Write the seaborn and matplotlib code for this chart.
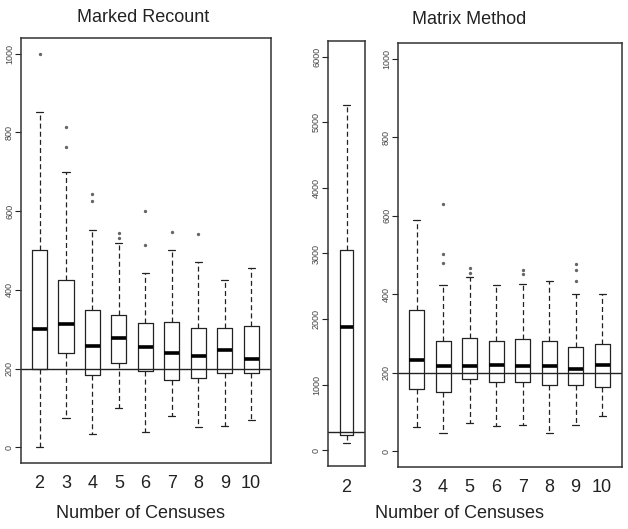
import matplotlib
matplotlib.use("Agg")
import matplotlib.pyplot as plt
import seaborn as sns

# Marked Recount: censuses 2-10 (five-number summaries)
mr_censuses = [2, 3, 4, 5, 6, 7, 8, 9, 10]
mr_low = [0, 74, 33, 99, 40, 79, 52, 54, 69]
mr_q1 = [200, 239, 184, 214, 193, 170, 175, 189, 189]
mr_med = [300, 312, 258, 277, 255, 239, 232, 248, 225]
mr_q3 = [502, 426, 350, 336, 316, 318, 303, 304, 309]
mr_high = [852, 700, 551, 520, 444, 500, 472, 426, 455]
mr_out = [[1000], [813, 762], [643, 626], [545, 532], [600, 515], [547], [541], [], []]

# Matrix Method, 2 censuses (own scale)
mm2_census = [2]
mm2_low = [110]
mm2_q1 = [230]
mm2_med = [1880]
mm2_q3 = [3050]
mm2_high = [5260]
mm2_out = [[]]

# Matrix Method: censuses 3-10
mm_censuses = [3, 4, 5, 6, 7, 8, 9, 10]
mm_low = [61, 46, 72, 64, 68, 46, 68, 89]
mm_q1 = [158, 150, 183, 176, 176, 170, 170, 165]
mm_med = [232, 217, 217, 221, 217, 217, 210, 221]
mm_q3 = [359, 281, 289, 281, 285, 281, 265, 274]
mm_high = [589, 423, 444, 423, 427, 435, 401, 401]
mm_out = [[], [631, 503, 480], [466, 455], [], [463, 452], [], [476, 463, 435], []]

true_n = 200
true_n_mid = 280

sns.set_style("white")
plt.rcParams['font.family'] = ['Liberation Sans', 'DejaVu Sans']

ink = '#222222'


def make_stats(lo, q1, med, q3, hi, out):
    return [dict(whislo=a, q1=b, med=c, q3=d, whishi=e, fliers=f)
            for a, b, c, d, e, f in zip(lo, q1, med, q3, hi, out)]


def draw(ax, stats, labels, width, capw, ylim, yticks, hline):
    pos = list(range(1, len(stats) + 1))
    ax.bxp(stats, positions=pos, widths=width, capwidths=capw,
           boxprops=dict(color=ink, linewidth=0.9),
           whiskerprops=dict(color=ink, linewidth=0.9, linestyle=(0, (4, 2.5))),
           capprops=dict(color=ink, linewidth=0.9),
           medianprops=dict(color='black', linewidth=2.6, solid_capstyle='butt'),
           flierprops=dict(marker='o', markersize=1.4, markerfacecolor='#666666',
                           markeredgecolor='#666666', linestyle='none'),
           manage_ticks=False)
    ax.axhline(hline, color=ink, linewidth=1.0)
    ax.set_xlim(0.3, len(stats) + 0.75)
    ax.set_ylim(*ylim)
    ax.set_xticks(pos)
    ax.set_xticklabels([str(c) for c in labels], fontsize=13, color=ink)
    ax.set_yticks(yticks)
    ax.set_yticklabels([str(t) for t in yticks], fontsize=6.5, rotation=90,
                       va='center', color='#444444')
    ax.tick_params(axis='x', length=0, pad=9)
    ax.tick_params(axis='y', length=4, width=0.8, direction='out', pad=1,
                   color=ink, left=True)
    for s in ax.spines.values():
        s.set_visible(True)
        s.set_color('#333333')
        s.set_linewidth(1.1)


W, H = 628, 529
fig = plt.figure(figsize=(W / 100, H / 100), dpi=100)


def add_ax(x0, x1, top, bottom):
    return fig.add_axes([x0 / W, 1 - bottom / H, (x1 - x0) / W, (bottom - top) / H])


ax1 = add_ax(21, 271, 38, 463)
ax2 = add_ax(328, 365, 41, 466)
ax3 = add_ax(398, 622, 43, 467)

draw(ax1, make_stats(mr_low, mr_q1, mr_med, mr_q3, mr_high, mr_out), mr_censuses,
     0.57, 0.27, (-40, 1040), [0, 200, 400, 600, 800, 1000], true_n)
draw(ax2, make_stats(mm2_low, mm2_q1, mm2_med, mm2_q3, mm2_high, mm2_out), mm2_census,
     0.38, 0.18, (-240, 6240), [0, 1000, 2000, 3000, 4000, 5000, 6000], true_n_mid)
ax2.set_xlim(0.46, 1.54)
draw(ax3, make_stats(mm_low, mm_q1, mm_med, mm_q3, mm_high, mm_out), mm_censuses,
     0.57, 0.27, (-40, 1040), [0, 200, 400, 600, 800, 1000], true_n)

fig.text(143 / W, 1 - 17 / H, 'Marked Recount', ha='center', va='center', fontsize=13, color=ink)
fig.text(469 / W, 1 - 20 / H, 'Matrix Method', ha='center', va='center', fontsize=13, color=ink)
fig.text(141 / W, 1 - 513 / H, 'Number of Censuses', ha='center', va='center', fontsize=13, color=ink)
fig.text(460 / W, 1 - 514 / H, 'Number of Censuses', ha='center', va='center', fontsize=13, color=ink)

fig.savefig('out.png', dpi=100, facecolor='white')
